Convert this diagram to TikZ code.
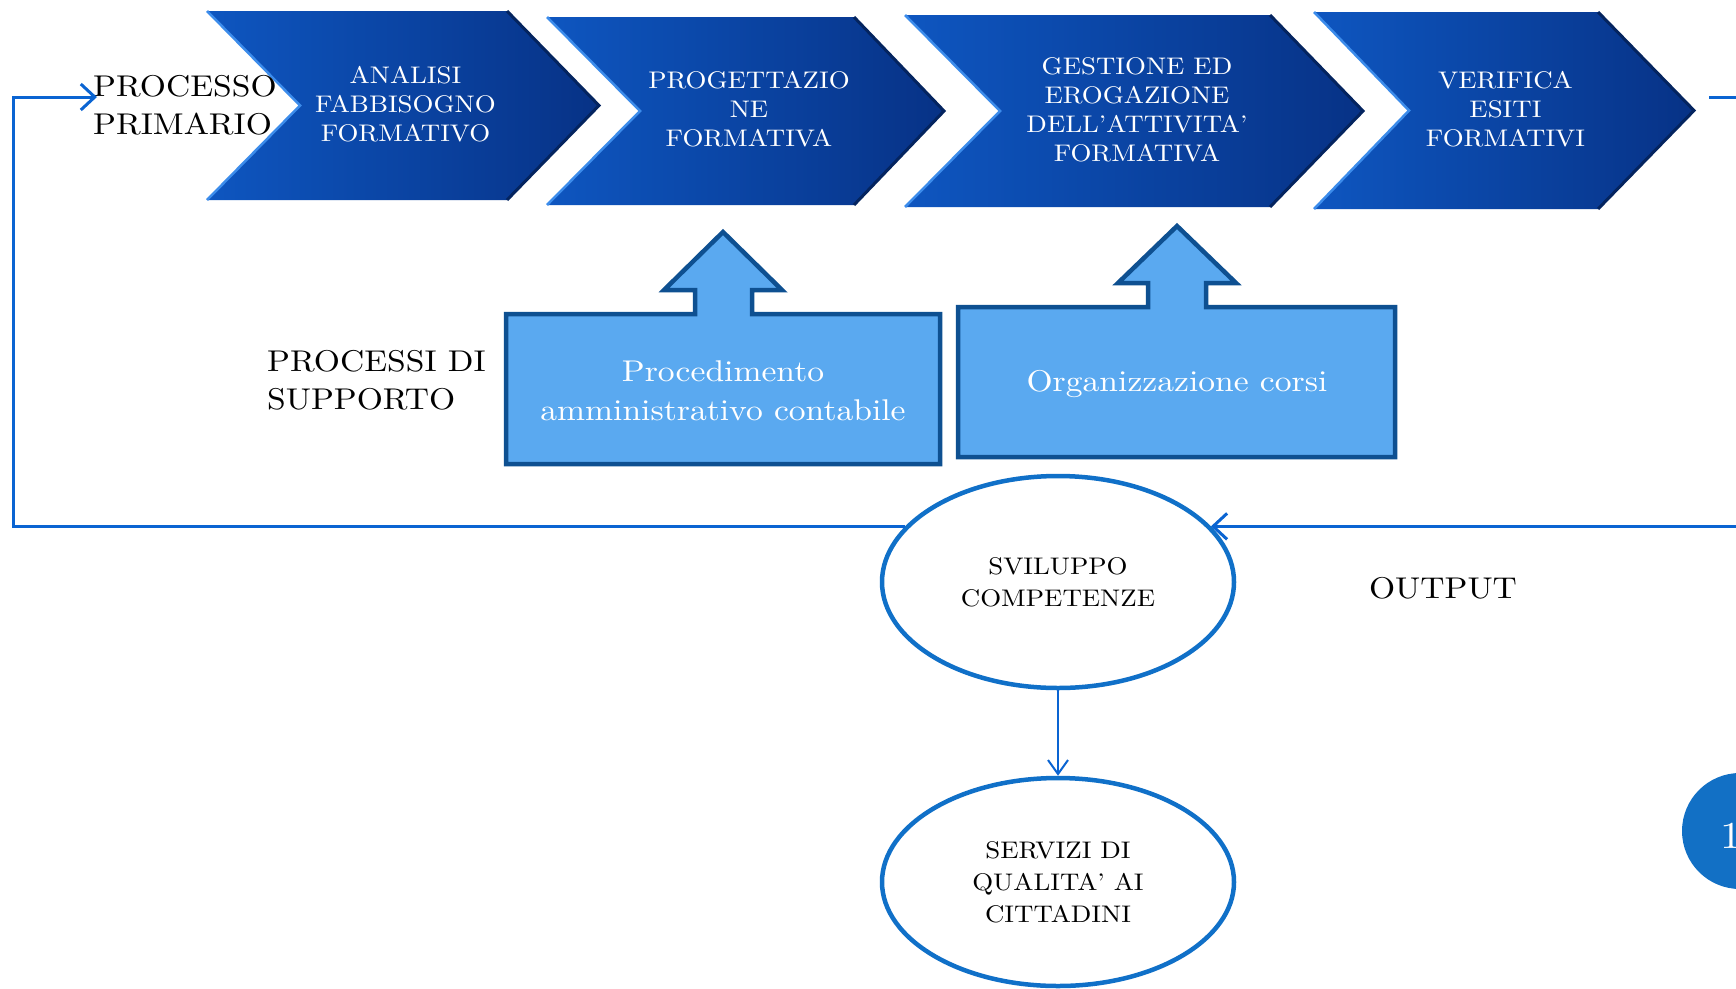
\documentclass[tikz,border=0pt]{standalone}
\usepackage{fontspec}
\setmainfont{lmroman10-regular.otf}[FakeStretch=1.12]
\usetikzlibrary{shapes.geometric,arrows.meta}
\definecolor{chevL}{RGB}{14,86,192}
\definecolor{chevR}{RGB}{7,50,134}
\definecolor{chevHi}{RGB}{60,140,235}
\definecolor{chevSh}{RGB}{4,36,95}
\definecolor{supFill}{RGB}{90,169,240}
\definecolor{supLine}{RGB}{14,80,145}
\definecolor{ellLine}{RGB}{16,112,200}
\definecolor{flowCol}{RGB}{10,100,210}
\definecolor{pgFill}{RGB}{18,112,197}
\tikzset{
  chevshade/.style={left color=chevL, right color=chevR},
  chevhi/.style={draw=chevHi, line width=2.5pt, line join=miter},
  chevsh/.style={draw=chevSh, line width=3pt, line join=miter},
  chevtext/.style={text=white, align=center, inner sep=0pt, font=\fontsize{24}{29}\selectfont},
  biglabel/.style={align=left, inner sep=0pt, anchor=west, font=\fontsize{30}{38}\selectfont},
  supbox/.style={fill=supFill, draw=supLine, line width=4.5pt, line join=miter},
  suptext/.style={text=white, align=center, inner sep=0pt, font=\fontsize{30}{39}\selectfont},
  ellnode/.style={ellipse, draw=ellLine, line width=4.5pt, minimum width=352pt, minimum height=212pt, inner sep=0pt, align=center, font=\fontsize{24}{32}\selectfont},
  flow/.style={draw=flowCol, line width=3pt, -{Straight Barb[length=14pt,width=26pt]}},
  thinflow/.style={draw=flowCol, line width=2pt, -{Straight Barb[length=14pt,width=20pt]}},
}
% name, xl, yt, xr, xtip, yb, xnotch, text
\newcommand\mychevron[8]{%
  \pgfmathsetmacro\chevym{(#3+#6)/2}%
  \shade[chevshade] (#2,#3) -- (#4,#3) -- (#5,\chevym) -- (#4,#6) -- (#2,#6) -- (#7,\chevym) -- cycle;
  \draw[chevhi] (#2,#3) -- (#7,\chevym) -- (#2,#6);
  \draw[chevsh] (#4,#3) -- (#5,\chevym) -- (#4,#6);
  \node[chevtext] (#1) at ({(#7+#4)/2+2}, {\chevym-1.5}) {#8};
}
\begin{document}
\begin{tikzpicture}[x=1pt,y=-1pt]
\useasboundingbox (0,0) rectangle (1736,988);
\fill[white] (0,0) rectangle (1736,988);

% primary process chevrons
\mychevron{c1}{207}{11}{507}{599}{200}{300}{ANALISI\\FABBISOGNO\\FORMATIVO}
\mychevron{c2}{547}{17}{854}{944}{205}{640}{PROGETTAZIO\\NE\\FORMATIVA}
\mychevron{c3}{905}{15}{1270}{1363}{207}{1000}{GESTIONE ED\\EROGAZIONE\\DELL’ATTIVITA’\\FORMATIVA}
\mychevron{c4}{1314}{12}{1598}{1694}{209}{1409}{VERIFICA\\ESITI\\FORMATIVI}

% labels
\node[biglabel] (pp) at (93,105) {PROCESSO\\PRIMARIO};
\node[biglabel] (ps) at (267,380) {PROCESSI DI\\SUPPORTO};
\node[inner sep=0pt, font=\fontsize{30}{38}\selectfont] (out) at (1443,588) {OUTPUT};

% support boxes
\draw[supbox] (506,314) -- (695,314) -- (695,290) -- (664,290) -- (723,232) -- (782,290) -- (752,290) -- (752,314) -- (940,314) -- (940,464) -- (506,464) -- cycle;
\node[suptext] (s1) at (723,391) {Procedimento\\amministrativo contabile};
\draw[supbox] (958,307) -- (1148,307) -- (1148,283) -- (1118,283) -- (1177,226) -- (1236,283) -- (1206,283) -- (1206,307) -- (1395,307) -- (1395,457) -- (958,457) -- cycle;
\node[suptext] (s2) at (1177,384) {Organizzazione corsi};

% ellipses
\node[ellnode] (e1) at (1058,582) {SVILUPPO\\COMPETENZE};
\node[ellnode, minimum height=208pt] (e2) at (1058,882) {SERVIZI DI\\QUALITA’ AI\\CITTADINI};

% connectors
\draw[thinflow] (e1.south) -- (e2.north);
\coordinate (lc) at (13,527);
\coordinate (pin) at (97,97);
\draw[flow] (e1.160) -- (e1.160 -| lc) |- (pin);
\coordinate (outstart) at (1709,97);
\coordinate (offr) at (1790,97);
\draw[flow] (outstart) -- (offr) |- (e1.20);

% page number badge
\node[circle, fill=pgFill, minimum size=116pt, inner sep=0pt] (pgc) at (1740,831) {};
\node[text=white, anchor=west, inner sep=0pt, font=\fontsize{38}{40}\selectfont] (pgnum) at (1720,836) {1};
\end{tikzpicture}
\end{document}
